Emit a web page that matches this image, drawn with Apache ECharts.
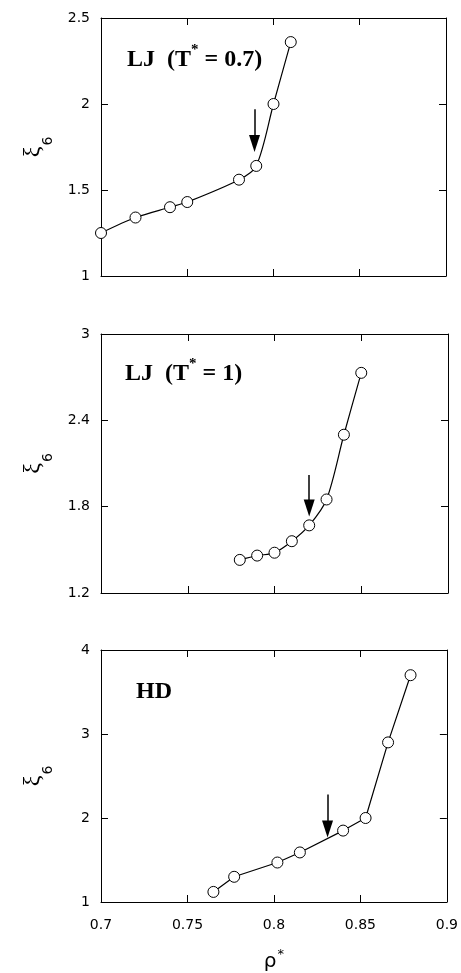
<!DOCTYPE html>
<html>
<head>
<meta charset="utf-8">
<script src="https://cdn.jsdelivr.net/npm/echarts@6/dist/echarts.min.js"></script>
<style>
html,body{margin:0;padding:0;background:#fff;}
#chart{width:461px;height:973px;}
</style>
</head>
<body>
<div id="chart"></div>
<script>
// ---- data ----
const rho1 = [0.70, 0.72, 0.74, 0.75, 0.78, 0.79, 0.80, 0.81];
const xi1  = [1.25, 1.34, 1.40, 1.43, 1.56, 1.64, 2.00, 2.36];
const rho2 = [0.78, 0.79, 0.80, 0.81, 0.82, 0.83, 0.84, 0.85];
const xi2  = [1.43, 1.46, 1.48, 1.56, 1.67, 1.85, 2.30, 2.73];
const rho3 = [0.765, 0.777, 0.802, 0.815, 0.840, 0.853, 0.866, 0.879];
const xi3  = [1.12, 1.30, 1.47, 1.59, 1.85, 2.00, 2.90, 3.70];
const arrow1 = [[0.789, 1.97], [0.789, 1.77]];
const arrow2 = [[0.820, 2.02], [0.820, 1.79]];
const arrow3 = [[0.831, 2.28], [0.831, 1.87]];
const panelLabels = ['LJ  (T*= 0.7)', 'LJ  (T*= 1)', 'HD'];
const xRange = [0.7, 0.9, 0.05];
const xTickLabels = ['0.7', '0.75', '0.8', '0.85', '0.9'];
const yRanges = [[1, 2.5, 0.5], [1.2, 3, 0.6], [1, 4, 1]];
const yTickLabels = [['1', '1.5', '2', '2.5'], ['1.2', '1.8', '2.4', '3'], ['1', '2', '3', '4']];

const panels = [
  {rho: rho1, xi: xi1, arrow: arrow1, smooth: 0.3},
  {rho: rho2, xi: xi2, arrow: arrow2, smooth: 0.3},
  {rho: rho3, xi: xi3, arrow: arrow3, smooth: false}
];

const grids = [
  {left: 101, right: 15, top: 18, height: 258},
  {left: 101, right: 13, top: 334, height: 259},
  {left: 101, right: 11, top: 650, height: 259}
];

const tickFont = {fontFamily: 'DejaVu Sans', fontSize: 14, color: '#000'};

function fmt(list, v) {
  for (const s of list) { if (Math.abs(parseFloat(s) - v) < 1e-6) return s; }
  return '';
}

const xAxes = [], yAxes = [], series = [], titles = [];
grids.forEach((g, i) => {
  const last = i === grids.length - 1;
  const base = {
    type: 'value', gridIndex: i,
    min: xRange[0], max: xRange[1], interval: xRange[2],
    axisLine: {show: true, onZero: false, lineStyle: {color: '#000', width: 1}},
    axisTick: {show: true, inside: true, length: 7, lineStyle: {color: '#000', width: 1}},
    splitLine: {show: false}
  };
  xAxes.push(Object.assign({}, base, {
    position: 'bottom',
    axisLabel: Object.assign({show: last, margin: 16, showMinLabel: true, showMaxLabel: true,
      formatter: v => fmt(xTickLabels, v)}, tickFont),
    name: last ? '{r|ρ}{s|*}' : '',
    nameLocation: 'middle', nameGap: 46,
    nameTextStyle: {rich: {
      r: {fontFamily: 'DejaVu Sans', fontSize: 20, color: '#000', lineHeight: 24, verticalAlign: 'bottom'},
      s: {fontFamily: 'DejaVu Sans', fontSize: 13, color: '#000', lineHeight: 24, verticalAlign: 'top', padding: [0, 0, 0, 1]}
    }}
  }));
  xAxes.push(Object.assign({}, base, {position: 'top', axisLabel: {show: false}}));

  const yr = yRanges[i];
  const ybase = {
    type: 'value', gridIndex: i,
    min: yr[0], max: yr[1], interval: yr[2],
    axisLine: {show: true, onZero: false, lineStyle: {color: '#000', width: 1}},
    axisTick: {show: true, inside: true, length: 7, lineStyle: {color: '#000', width: 1}},
    splitLine: {show: false}
  };
  yAxes.push(Object.assign({}, ybase, {
    position: 'left',
    axisLabel: Object.assign({show: true, margin: 11, showMinLabel: true, showMaxLabel: true,
      formatter: v => fmt(yTickLabels[i], v)}, tickFont),
    name: '{x|ξ}{s|6}',
    nameLocation: 'middle', nameGap: 56, nameRotate: 90,
    nameTextStyle: {rich: {
      x: {fontFamily: 'Liberation Serif', fontSize: 24, color: '#000', lineHeight: 24, verticalAlign: 'top'},
      s: {fontFamily: 'DejaVu Sans', fontSize: 14, color: '#000', lineHeight: 14, verticalAlign: 'top', padding: [20, 0, 0, 1]}
    }}
  }));
  yAxes.push(Object.assign({}, ybase, {position: 'right', axisLabel: {show: false}}));

  const p = panels[i];
  series.push({
    type: 'line',
    xAxisIndex: 2 * i, yAxisIndex: 2 * i,
    data: p.rho.map((r, k) => [r, p.xi[k]]),
    smooth: p.smooth,
    clip: false,
    symbol: 'circle', symbolSize: 11,
    itemStyle: {color: '#fff', borderColor: '#000', borderWidth: 1},
    lineStyle: {color: '#000', width: 1.2},
    z: 3,
    markLine: {
      silent: true,
      symbol: ['none', 'triangle'],
      symbolSize: [11, 17],
      label: {show: false},
      lineStyle: {type: 'solid', color: '#000', width: 1.5},
      itemStyle: {color: '#000'},
      data: [[{coord: p.arrow[0]}, {coord: p.arrow[1]}]]
    }
  });
});

const titleLeft = [127, 125, 136];
const titleTop = [47, 361, 679];
panelLabels.forEach((lab, i) => {
  const parts = lab.split('*');
  let text = parts.length > 1 ? '{a|' + parts[0] + '}{s|*}{a|' + parts[1].replace(/^=/, ' =') + '}' : '{a|' + lab + '}';
  titles.push({
    text: text, left: titleLeft[i], top: titleTop[i], padding: 0,
    textStyle: {fontWeight: 'bold', rich: {
      a: {fontFamily: 'Liberation Serif', fontWeight: 'bold', fontSize: 24, color: '#000', lineHeight: 26},
      s: {fontFamily: 'Liberation Serif', fontWeight: 'bold', fontSize: 15, color: '#000', lineHeight: 26, verticalAlign: 'top', padding: [-4, 0, 0, 0]}
    }}
  });
});

const chart = echarts.init(document.getElementById('chart'), null, {renderer: 'canvas'});
chart.setOption({
  animation: false,
  backgroundColor: '#fff',
  title: titles,
  grid: grids.map(g => Object.assign({show: false}, g)),
  xAxis: xAxes,
  yAxis: yAxes,
  series: series
});
</script>
</body>
</html>
